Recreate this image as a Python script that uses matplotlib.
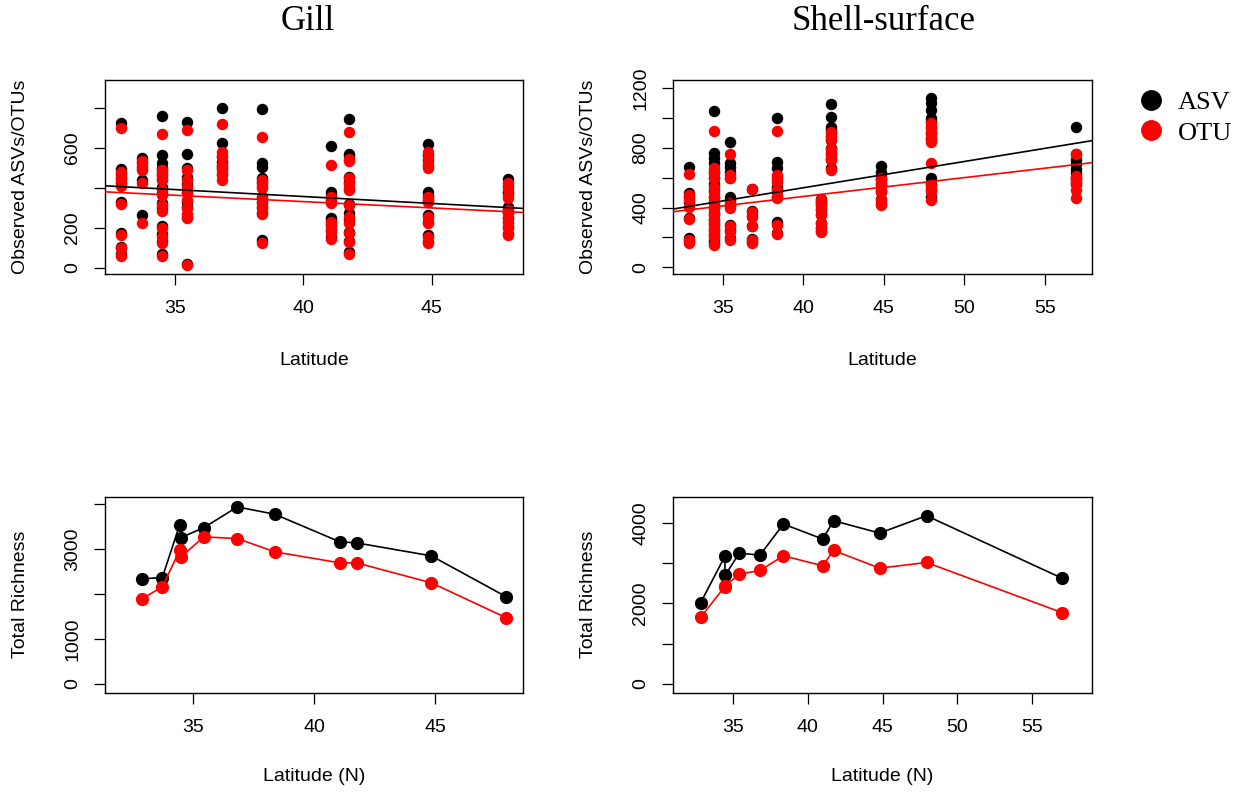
import matplotlib.pyplot as plt
import numpy as np
from matplotlib.lines import Line2D

# Gill: observed ASVs/OTUs per sample, grouped by sampling latitude
gill_site_lat = [32.87, 33.72, 34.47, 35.47, 36.84, 38.40, 41.08, 41.77, 44.87, 47.99]
gill_asv = [
    [721, 491, 470, 445, 425, 329, 174, 104, 67],
    [546, 525, 500, 437, 262],
    [757, 562, 521, 500, 475, 445, 404, 375, 325, 297, 210, 168, 133, 66],
    [729, 567, 500, 454, 420, 380, 329, 305, 255, 18],
    [796, 621, 560, 529, 510, 496, 470],
    [792, 524, 501, 450, 430, 354, 330, 305, 275, 137],
    [609, 379, 362, 340, 246, 238, 214, 190, 152],
    [741, 567, 560, 455, 429, 395, 320, 271, 237, 179, 135, 79],
    [617, 562, 537, 510, 379, 360, 340, 262, 230, 162, 130],
    [441, 410, 380, 371, 304, 290, 279, 250, 230, 205, 170],
]
gill_otu = [
    [699, 479, 454, 429, 407, 317, 162, 96, 59],
    [534, 507, 487, 421, 224],
    [666, 487, 462, 487, 462, 437, 389, 362, 312, 284, 196, 154, 121, 59],
    [687, 487, 437, 404, 371, 340, 296, 270, 246, 12],
    [717, 579, 554, 512, 487, 462, 437],
    [651, 437, 421, 410, 400, 346, 324, 296, 267, 121],
    [512, 355, 330, 321, 229, 220, 204, 179, 141],
    [679, 545, 534, 446, 420, 387, 312, 254, 221, 171, 129, 67],
    [579, 550, 520, 496, 354, 340, 329, 254, 221, 154, 121],
    [421, 396, 362, 350, 290, 280, 271, 246, 221, 196, 162],
]
# linear fits (intercept, slope)
gill_fit_asv = [632.6, -6.93]
gill_fit_otu = [582.8, -6.32]

# Shell-surface
shell_site_lat = [32.90, 34.48, 35.47, 36.84, 38.35, 41.08, 41.74, 44.83, 47.94, 56.97]
shell_asv = [
    [675, 500, 470, 440, 330, 195, 175],
    [1051, 765, 732, 700, 640, 600, 560, 520, 474, 440, 400, 360, 320, 290, 250, 215, 180, 160],
    [839, 698, 676, 640, 474, 450, 410, 285, 250, 195],
    [525, 378, 345, 278, 188, 170],
    [1000, 709, 664, 600, 541, 520, 470, 306, 230],
    [455, 440, 420, 390, 355, 300, 265, 245],
    [1094, 1011, 944, 920, 880, 854, 800, 770, 730, 665],
    [680, 642, 620, 590, 560, 515, 460, 425],
    [1134, 1100, 1055, 1000, 980, 940, 900, 870, 597, 560, 520, 470],
    [944, 760, 720, 690, 660, 631, 600, 560],
]
shell_otu = [
    [626, 485, 452, 407, 322, 183, 165],
    [915, 666, 632, 600, 542, 508, 470, 430, 400, 370, 352, 320, 296, 270, 251, 230, 206, 150],
    [758, 620, 600, 600, 430, 420, 397, 274, 240, 183],
    [523, 374, 340, 274, 183, 165],
    [915, 620, 586, 570, 519, 480, 463, 284, 224],
    [452, 435, 418, 385, 352, 296, 262, 240],
    [910, 900, 872, 860, 800, 787, 753, 735, 720, 653],
    [600, 586, 560, 553, 520, 508, 452, 418],
    [966, 933, 910, 889, 870, 854, 840, 698, 553, 530, 508, 452],
    [758, 610, 597, 590, 580, 564, 520, 464],
]
shell_fit_asv = [-171.6, 17.63]
shell_fit_otu = [-30.3, 12.64]

# Total richness per site
gill_total_lat = [32.87, 33.73, 34.45, 34.50, 35.45, 36.83, 38.38, 41.07, 41.76, 44.85, 47.95]
gill_total_asv = [2340, 2370, 3548, 3259, 3481, 3941, 3778, 3163, 3141, 2852, 1941]
gill_total_otu = [1889, 2163, 2978, 2830, 3274, 3237, 2941, 2696, 2696, 2252, 1474]

shell_total_lat = [32.82, 34.43, 34.45, 35.40, 36.79, 38.36, 41.00, 41.72, 44.81, 47.95, 57.02]
shell_total_asv = [2023, 3167, 2695, 3250, 3201, 3972, 3599, 4055, 3748, 4179, 2629]
shell_total_otu = [1658, 2421, 2430, 2728, 2819, 3184, 2935, 3317, 2877, 3018, 1774]

W, H = 1246, 794
SANS = "Liberation Sans"
SERIF = "Liberation Serif"


def fig_rect(x0, y0, x1, y1):
    """Pixel box (top-left origin) to figure fraction rect."""
    return [x0 / W, 1 - y1 / H, (x1 - x0) / W, (y1 - y0) / H]


def style_axes(ax, xlim, ylim, xticks, yticks, ylabels, xlabel, ylabel, xlab_off, height_px):
    ax.set_xlim(*xlim)
    ax.set_ylim(*ylim)
    ax.set_xticks(xticks, [str(t) for t in xticks])
    ax.set_yticks(yticks, ylabels)
    ax.tick_params(direction="out", length=8, width=0.9, labelsize=14, colors="black")
    ax.tick_params(axis="x", pad=11)
    ax.tick_params(axis="y", pad=9)
    for tl in ax.get_xticklabels() + ax.get_yticklabels():
        tl.set_fontfamily(SANS)
    for tl in ax.get_yticklabels():
        tl.set_rotation(90)
        tl.set_va("center")
    for sp in ax.spines.values():
        sp.set_linewidth(1.0)
    ax.set_xlabel(xlabel, fontsize=14, family=SANS, va="center")
    ax.xaxis.set_label_coords(0.5, -xlab_off / height_px)
    ax.set_ylabel(ylabel, fontsize=14, family=SANS, va="center")
    ax.yaxis.set_label_coords(-84 / 418, 0.5)


def draw_scatter(ax, lat, asv, otu, fit_asv, fit_otu):
    x_asv = np.concatenate([np.full(len(v), l) for l, v in zip(lat, asv)])
    x_otu = np.concatenate([np.full(len(v), l) for l, v in zip(lat, otu)])
    ax.scatter(x_asv, np.concatenate(asv), s=68, c="black", linewidths=0, zorder=2)
    ax.scatter(x_otu, np.concatenate(otu), s=68, c="red", linewidths=0, zorder=3)
    ax.axline((0, fit_asv[0]), slope=fit_asv[1], color="black", lw=1.2, zorder=4)
    ax.axline((0, fit_otu[0]), slope=fit_otu[1], color="red", lw=1.2, zorder=4)


def draw_totals(ax, lat, asv, otu):
    ax.plot(lat, asv, "-o", color="black", lw=1.2, ms=8.5, zorder=3)
    ax.plot(lat, otu, "-o", color="red", lw=1.2, ms=8.5, zorder=3)


def main():
    fig = plt.figure(figsize=(W / 100, H / 100), dpi=100)

    ax1 = fig.add_axes(fig_rect(105, 80, 523, 274))
    draw_scatter(ax1, gill_site_lat, gill_asv, gill_otu, gill_fit_asv, gill_fit_otu)
    style_axes(ax1, (32.26, 48.57), (-32, 938), [35, 40, 45],
               [0, 200, 400, 600, 800], ["0", "200", "", "600", ""],
               "Latitude", "Observed ASVs/OTUs", 87, 194)

    ax2 = fig.add_axes(fig_rect(673, 80, 1092, 274))
    draw_scatter(ax2, shell_site_lat, shell_asv, shell_otu, shell_fit_asv, shell_fit_otu)
    style_axes(ax2, (31.91, 57.94), (-45, 1257), [35, 40, 45, 50, 55],
               [0, 200, 400, 600, 800, 1000, 1200],
               ["0", "", "400", "", "800", "", "1200"],
               "Latitude", "Observed ASVs/OTUs", 87, 194)

    ax3 = fig.add_axes(fig_rect(105, 497, 523, 692.5))
    draw_totals(ax3, gill_total_lat, gill_total_asv, gill_total_otu)
    style_axes(ax3, (31.36, 48.64), (-189, 4162), [35, 40, 45],
               [0, 1000, 2000, 3000, 4000], ["0", "1000", "", "3000", ""],
               "Latitude (N)", "Total Richness", 84, 195.5)

    ax4 = fig.add_axes(fig_rect(673, 497, 1092, 692.5))
    draw_totals(ax4, shell_total_lat, shell_total_asv, shell_total_otu)
    style_axes(ax4, (30.96, 59.04), (-211, 4644), [35, 40, 45, 50, 55],
               [0, 1000, 2000, 3000, 4000], ["0", "", "2000", "", "4000"],
               "Latitude (N)", "Total Richness", 84, 195.5)

    fig.text(308 / W, 1 - 21 / H, "Gill", ha="center", va="center",
             family=SERIF, fontsize=25)
    fig.text(884 / W, 1 - 21 / H, "Shell-surface", ha="center", va="center",
             family=SERIF, fontsize=25)

    handles = [Line2D([], [], ls="none", marker="o", ms=14, color=c)
               for c in ("black", "red")]
    fig.legend(handles, ["ASV", "OTU"], loc="upper left",
               bbox_to_anchor=(1138 / W, 1 - 91 / H), frameon=False,
               prop={"family": SERIF, "size": 19}, handlelength=1.0,
               handletextpad=0.5, labelspacing=0.25, borderaxespad=0, borderpad=0)

    fig.savefig("out.png", dpi=100)


if __name__ == "__main__":
    main()
